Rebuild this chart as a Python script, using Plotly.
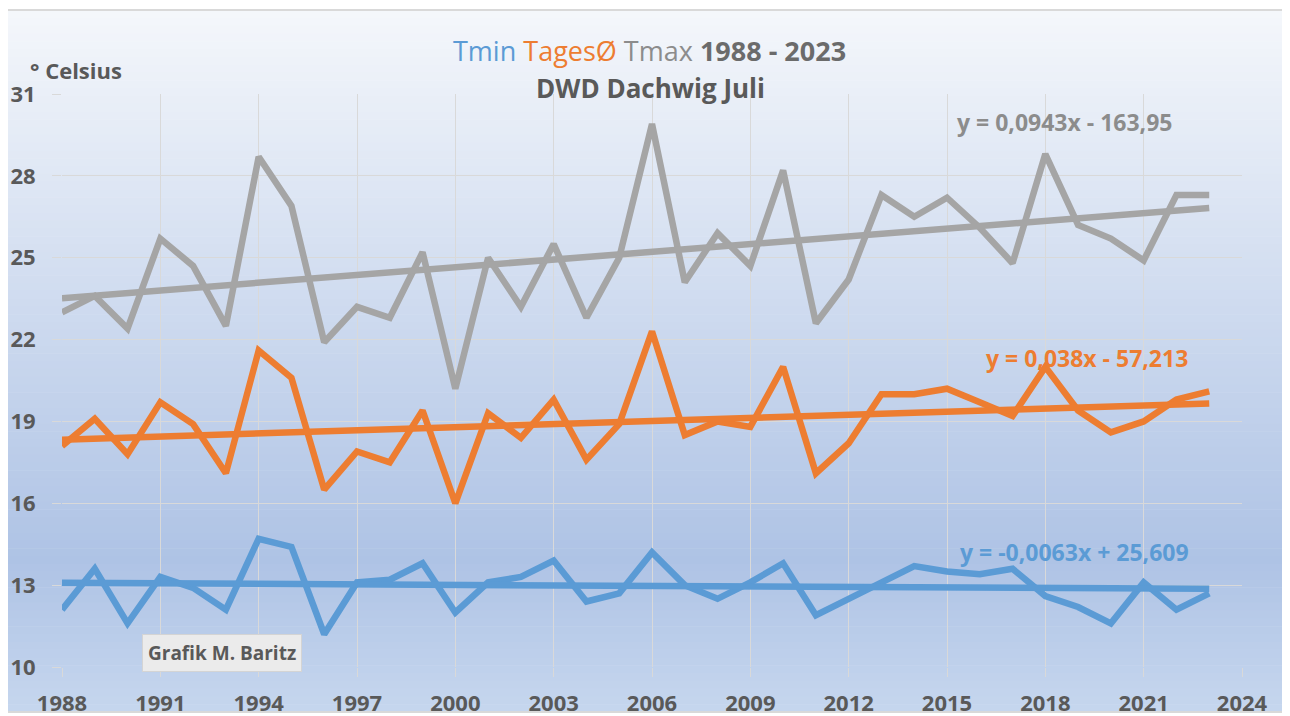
import plotly.graph_objects as go

years = list(range(1988, 2024))

tmax = [23.0, 23.6, 22.4, 25.7, 24.7, 22.5, 28.7, 26.9, 21.9, 23.2, 22.8, 25.2,
        20.2, 25.0, 23.2, 25.5, 22.8, 25.0, 29.9, 24.1, 25.9, 24.7, 28.2, 22.6,
        24.2, 27.3, 26.5, 27.2, 26.1, 24.8, 28.8, 26.2, 25.7, 24.9, 27.3, 27.3]

tmean = [18.1, 19.1, 17.8, 19.7, 18.9, 17.1, 21.6, 20.6, 16.5, 17.9, 17.5, 19.4,
         16.0, 19.3, 18.4, 19.8, 17.6, 18.9, 22.3, 18.5, 19.0, 18.8, 21.0, 17.1,
         18.2, 20.0, 20.0, 20.2, 19.7, 19.2, 21.0, 19.4, 18.6, 19.0, 19.8, 20.1]

tmin = [12.1, 13.6, 11.6, 13.3, 12.9, 12.1, 14.7, 14.4, 11.2, 13.1, 13.2, 13.8,
        12.0, 13.1, 13.3, 13.9, 12.4, 12.7, 14.2, 13.0, 12.5, 13.1, 13.8, 11.9,
        12.5, 13.1, 13.7, 13.5, 13.4, 13.6, 12.6, 12.2, 11.6, 13.1, 12.1, 12.7]

# trend line coefficients as shown in the chart (slope, intercept)
trend_tmax = [0.0943, -163.95]
trend_tmean = [0.038, -57.213]
trend_tmin = [-0.0063, 25.609]

eq_labels = ["y = 0,0943x - 163,95", "y = 0,038x - 57,213", "y = -0,0063x + 25,609"]
x_ticks = list(range(1988, 2025, 3))
y_ticks = list(range(10, 32, 3))

BLUE = "#5b9bd5"
ORANGE = "#ed7d31"
GREY = "#a5a5a5"
TXT = "#595959"
FONT = "Open Sans"
LW = 6.5


def trend(c):
    return [c[0] * y + c[1] for y in years]


fig = go.Figure()
for vals, col in [(tmax, GREY), (tmean, ORANGE), (tmin, BLUE)]:
    fig.add_trace(go.Scatter(x=years, y=vals, mode="lines",
                             line=dict(color=col, width=LW), showlegend=False))
for c, col in [(trend_tmax, GREY), (trend_tmean, ORANGE), (trend_tmin, BLUE)]:
    fig.add_trace(go.Scatter(x=years, y=trend(c), mode="lines",
                             line=dict(color=col, width=LW), showlegend=False))

# geometry: page body has an 8px margin, so figure px = screen px - 8
OFF = 8
W, H = 1290, 716
L = 62 - OFF
T = 94 - OFF
R = W - (1242 - OFF)
B = H - (667 - OFF)
pw, ph = W - L - R, H - T - B


def px(x):  # screen x -> paper
    return (x - OFF - L) / pw


def py(y):  # screen y -> paper
    return (H - B - (y - OFF)) / ph


# gradient background for chart area
shapes = []
top, bot = 10, 712
left, right = 7, 1283
stops = [(0.0, (245, 247, 251)), (0.78, (174, 195, 229)), (1.0, (198, 214, 238))]
n = 90


def col_at(f):
    for i in range(len(stops) - 1):
        f0, c0 = stops[i]
        f1, c1 = stops[i + 1]
        if f0 <= f <= f1:
            t = (f - f0) / (f1 - f0)
            return tuple(int(round(c0[k] + (c1[k] - c0[k]) * t)) for k in range(3))
    return stops[-1][1]


for i in range(n):
    y0 = top + (bot - top) * i / n
    y1 = top + (bot - top) * (i + 1) / n + 0.6
    c = col_at((i + 0.5) / n)
    shapes.append(dict(type="rect", xref="paper", yref="paper", layer="below",
                       x0=px(left), x1=px(right), y0=py(y1), y1=py(y0),
                       fillcolor="rgb(%d,%d,%d)" % c, line=dict(width=0)))
shapes.append(dict(type="rect", xref="paper", yref="paper", layer="below",
                   x0=px(left), x1=px(right), y0=py(bot), y1=py(top),
                   fillcolor="rgba(0,0,0,0)", line=dict(color="#d9d9d9", width=2)))


def ann(x, y, text, size, color, xanchor="center", **kw):
    d = dict(x=px(x), y=py(y), xref="paper", yref="paper", showarrow=False,
             xanchor=xanchor, yanchor="middle", text=text,
             font=dict(family=FONT, size=size, color=color))
    d.update(kw)
    return d


annotations = [
    ann(649, 50,
        "<span style='color:%s'>Tmin</span> <span style='color:%s'>TagesØ</span> "
        "<span style='color:#8c8c8c'>Tmax</span> <b>1988 - 2023</b>" % (BLUE, ORANGE),
        27, "#6b6b6b"),
    ann(650, 88, "<b>DWD Dachwig Juli</b>", 26, TXT),
    ann(28, 70, "<b>° Celsius</b>", 22, TXT, xanchor="left"),
    ann(1064, 122, "<b>%s</b>" % eq_labels[0], 23, "#8c8c8c"),
    ann(1087, 358, "<b>%s</b>" % eq_labels[1], 23, ORANGE),
    ann(1074, 552, "<b>%s</b>" % eq_labels[2], 23, BLUE),
    ann(222, 653, "<b>Grafik M. Baritz</b>", 19, TXT,
        bgcolor="#ebebeb", bordercolor="#d4d4d4", borderwidth=1, borderpad=5),
]

fig.update_layout(
    width=W, height=H,
    margin=dict(l=L, r=R, t=T, b=B, autoexpand=False),
    paper_bgcolor="white",
    plot_bgcolor="rgba(0,0,0,0)",
    shapes=shapes,
    annotations=annotations,
    showlegend=False,
    xaxis=dict(range=[1988, 2024], tickvals=x_ticks, showgrid=True,
               gridcolor="#d9d9d9", gridwidth=1, zeroline=False, showline=False,
               ticks="outside", ticklen=9, tickcolor="#d9d9d9", ticklabelstandoff=8,
               tickfont=dict(family=FONT, size=22, color=TXT, weight="bold")),
    yaxis=dict(range=[10, 31], tickvals=y_ticks, showgrid=True,
               gridcolor="#d9d9d9", gridwidth=1, zeroline=False, showline=False,
               ticks="outside", ticklen=9, tickcolor="#d9d9d9", ticklabelstandoff=12,
               tickfont=dict(family=FONT, size=22, color=TXT, weight="bold")),
)

fig.write_html("out.html")
